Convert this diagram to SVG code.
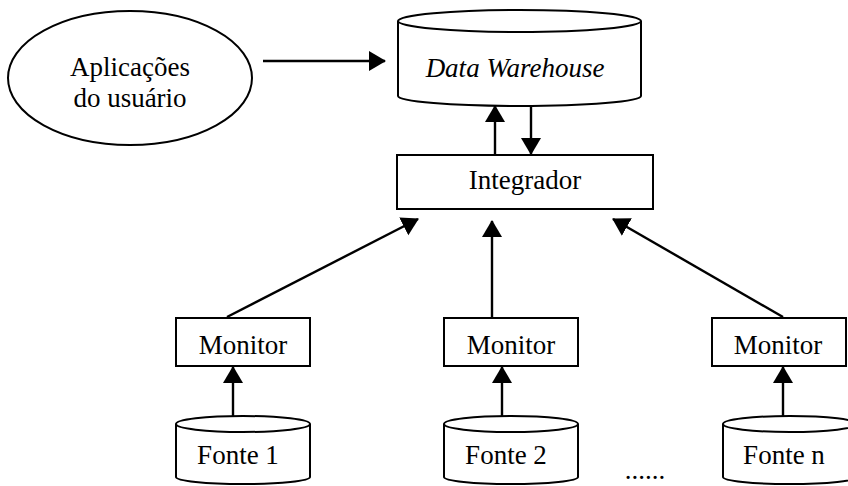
<svg xmlns="http://www.w3.org/2000/svg" width="848" height="486" viewBox="0 0 848 486">
<style>
.shape{fill:#fff;stroke:#000;stroke-width:2}
.lbl{font-family:"Liberation Serif","Times New Roman",serif;font-size:27px;fill:#000;text-anchor:middle}
.con{stroke:#000;stroke-width:2.4;fill:none}
</style>
<defs>
<marker id="ah" markerUnits="userSpaceOnUse" markerWidth="18" markerHeight="22" viewBox="0 0 18 22" refX="16" refY="11" orient="auto">
<path d="M0,1 L17,11 L0,21 Z" fill="#000"/>
</marker>
</defs>
<rect width="848" height="486" fill="#fff"/>
<g id="apps">
<ellipse class="shape" cx="130" cy="78" rx="122" ry="67"/>
<text class="lbl" x="130" y="76">Aplicações</text>
<text class="lbl" x="130" y="107">do usuário</text>
</g>
<g id="dw">
<path class="shape" d="M398,21 L398,96 A121.5,10 0 0 0 641,96 L641,21"/>
<ellipse class="shape" cx="519.5" cy="21" rx="121.5" ry="11"/>
<text class="lbl" x="515" y="77" font-style="italic">Data Warehouse</text>
</g>
<g id="integrador">
<rect class="shape" x="397" y="155" width="256" height="54"/>
<text class="lbl" x="525" y="189">Integrador</text>
</g>
<g id="monitor1">
<rect class="shape" x="176" y="318" width="134" height="48"/>
<text class="lbl" x="243" y="354">Monitor</text>
</g>
<g id="monitor2">
<rect class="shape" x="444" y="318" width="134" height="48"/>
<text class="lbl" x="511" y="354">Monitor</text>
</g>
<g id="monitorn">
<rect class="shape" x="712" y="318" width="134" height="48"/>
<text class="lbl" x="778" y="354">Monitor</text>
</g>
<g id="fonte1">
<path class="shape" d="M176,424 L176,477 A67,7 0 0 0 310,477 L310,424"/>
<ellipse class="shape" cx="243" cy="424" rx="67" ry="8"/>
<text class="lbl" x="238" y="464">Fonte 1</text>
</g>
<g id="fonte2">
<path class="shape" d="M444,424 L444,477 A67,7 0 0 0 578,477 L578,424"/>
<ellipse class="shape" cx="511" cy="424" rx="67" ry="8"/>
<text class="lbl" x="506" y="464">Fonte 2</text>
</g>
<g id="fonten">
<path class="shape" d="M723,424 L723,477 A67,7 0 0 0 857,477 L857,424"/>
<ellipse class="shape" cx="790" cy="424" rx="67" ry="8"/>
<text class="lbl" x="784" y="464">Fonte n</text>
</g>
<text class="lbl" x="645" y="479">......</text>
<g id="connectors">
<line class="con" x1="263" y1="61" x2="385" y2="61" marker-end="url(#ah)"/>
<line class="con" x1="495" y1="155" x2="495" y2="106" marker-end="url(#ah)"/>
<line class="con" x1="531" y1="106" x2="531" y2="154" marker-end="url(#ah)"/>
<line class="con" x1="227" y1="317" x2="418" y2="219" marker-end="url(#ah)"/>
<line class="con" x1="492" y1="317" x2="492" y2="221" marker-end="url(#ah)"/>
<line class="con" x1="783" y1="317" x2="613" y2="219" marker-end="url(#ah)"/>
<line class="con" x1="233" y1="416" x2="233" y2="367" marker-end="url(#ah)"/>
<line class="con" x1="502" y1="416" x2="502" y2="367" marker-end="url(#ah)"/>
<line class="con" x1="783" y1="416" x2="783" y2="367" marker-end="url(#ah)"/>
</g>
</svg>
